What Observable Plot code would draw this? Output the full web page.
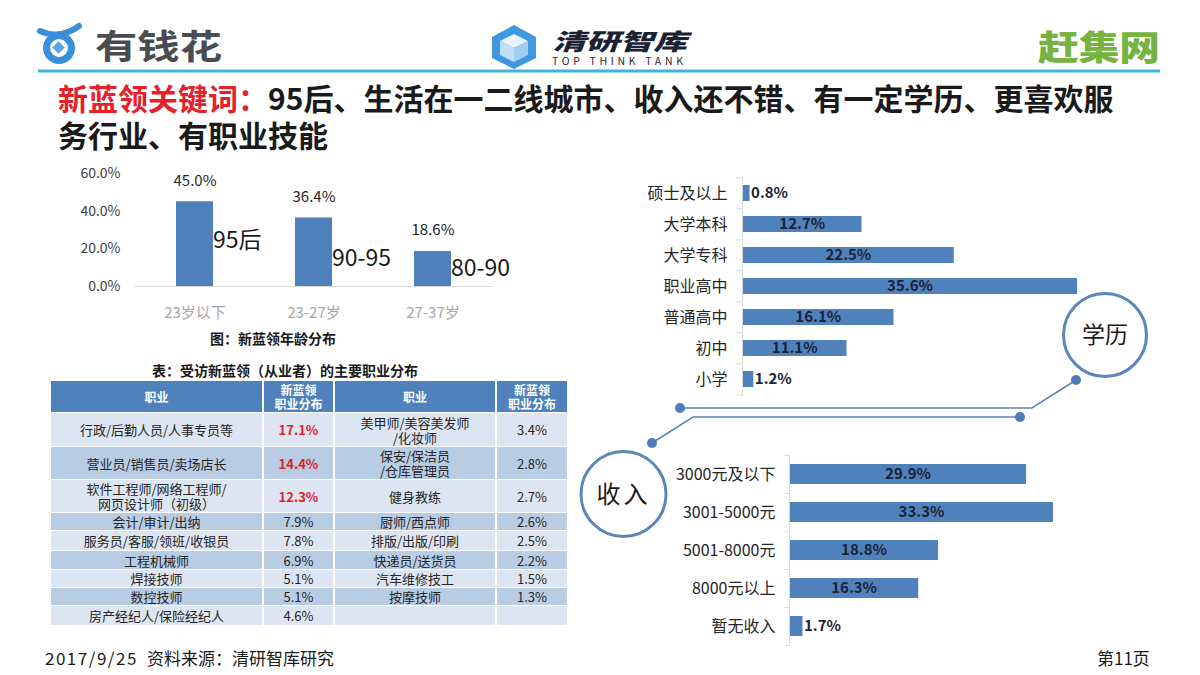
<!DOCTYPE html>
<html><head><meta charset="utf-8">
<script src="https://cdn.jsdelivr.net/npm/d3@7"></script>
<script src="https://cdn.jsdelivr.net/npm/@observablehq/plot@0.6"></script>
<style>
body{margin:0;background:#fff;}
#slide{position:relative;width:1200px;height:675px;overflow:hidden;font-family:"Noto Sans CJK SC","Noto Sans",sans-serif;background:#fff;color:#262626;}
.abs{position:absolute;}
.tl{left:58px;font-size:30px;line-height:34px;font-weight:700;color:#1a1a1a;white-space:nowrap;}
.tl .red{color:#e5202a;}
.cap{font-weight:700;font-size:14px;color:#1a1a1a;text-align:center;white-space:nowrap;}
#jobs{left:49px;top:380px;border-collapse:separate;border-spacing:2px 1px;font-size:13px;color:#262626;}
#jobs td,#jobs th{text-align:center;padding:0;line-height:15px;white-space:pre-line;}
#jobs th{background:#4f81bd;color:#fff;font-size:12px;font-weight:700;line-height:14px;height:31px;}
#jobs tr.l td{background:#dce5f1;}
#jobs tr.d td{background:#b8cce4;}
#jobs td.hi{color:#e0202a;font-weight:700;}
.foot{top:645px;font-size:17px;color:#1a1a1a;white-space:nowrap;}
</style></head><body>
<div id="slide">
  <svg class="abs" style="left:0;top:0" width="1200" height="675" id="deco">
    <line x1="38" y1="71" x2="1160" y2="71" stroke="#3db3e3" stroke-width="3"/>
    <!-- 有钱花 icon -->
    <path d="M40 31 Q60 40 79 26" fill="none" stroke="#3a8fda" stroke-width="6" stroke-linecap="round"/>
    <circle cx="59" cy="48" r="12.5" fill="none" stroke="#3a8fda" stroke-width="7"/>
    <rect x="54" y="43" width="9" height="9" fill="#5aa7e8" transform="rotate(45 58.5 47.5)"/>
    <text x="95" y="59" font-size="34" font-weight="700" fill="#4b4b52" textLength="127" lengthAdjust="spacingAndGlyphs">有钱花</text>
    <!-- 清研智库 icon -->
    <polygon points="514,25 536,37 536,58 514,69 492,58 492,37" fill="#3d98df"/>
    <polygon points="514,34 528,41 514,48 500,41" fill="#e8f3fb"/>
    <polygon points="500,41 514,48 514,62 500,55" fill="#bfe0f6"/>
    <polygon points="528,41 514,48 514,62 528,55" fill="#9fd0f1"/>
    <text x="552" y="50" font-size="23" font-weight="900" font-style="italic" fill="#1b2233" textLength="135" lengthAdjust="spacingAndGlyphs">清研智库</text>
    <text x="552" y="65" font-size="10.5" fill="#2b2b2b" textLength="131" lengthAdjust="spacing">TOP THINK TANK</text>
    <!-- 赶集网 -->
    <text x="1038" y="60" font-size="34" font-weight="900" fill="#76b33f" textLength="122" lengthAdjust="spacingAndGlyphs">赶集网</text>
    <!-- connectors -->
    <polyline points="680,408 1032,408 1076,380" fill="none" stroke="#5b84b9" stroke-width="1.5"/>
    <polyline points="652,443 693,417 1020,417" fill="none" stroke="#5b84b9" stroke-width="1.5"/>
    <circle cx="680" cy="408" r="5" fill="#4f7cb8"/>
    <circle cx="1076" cy="380" r="5" fill="#4f7cb8"/>
    <circle cx="652" cy="443" r="5" fill="#4f7cb8"/>
    <circle cx="1020" cy="417" r="5" fill="#4f7cb8"/>
    <circle cx="1105" cy="335" r="41.5" fill="#fff" stroke="#5b86bc" stroke-width="3"/>
    <text x="1105" y="343" font-size="23" text-anchor="middle" fill="#1a1a1a">学历</text>
    <circle cx="623.5" cy="494" r="42.5" fill="#fff" stroke="#5b86bc" stroke-width="3"/>
    <text x="623.5" y="503" font-size="24" text-anchor="middle" fill="#1a1a1a" letter-spacing="3">收入</text>
  </svg>
  <div class="abs tl" style="top:80px"><span class="red">新蓝领关键词：</span>95后、生活在一二线城市、收入还不错、有一定学历、更喜欢服</div>
  <div class="abs tl" style="top:117px">务行业、有职业技能</div>
  <div id="age" class="abs" style="left:0;top:150px"></div>
  <div class="abs cap" style="left:173px;top:328px;width:200px">图：新蓝领年龄分布</div>
  <div class="abs cap" style="left:110px;top:360px;width:350px;font-size:14px">表：受访新蓝领（从业者）的主要职业分布</div>
  <table id="jobs" class="abs"></table>
  <div id="edu" class="abs" style="left:600px;top:170px"></div>
  <div id="inc" class="abs" style="left:640px;top:445px"></div>
  <div class="abs foot" style="left:45px;letter-spacing:1.5px">2017/9/25</div>
  <div class="abs foot" style="left:147px">资料来源：清研智库研究</div>
  <div class="abs foot" style="left:1097px">第11页</div>
</div>
<script>
// ---- data ----
const ageCats = ["23岁以下", "23-27岁", "27-37岁"];
const ageVals = [45.0, 36.4, 18.6];
const cohortLabels = ["95后", "90-95", "80-90"];
const cohortLabelY = [24.4, 15.0, 9.6];
const ageTicks = [0, 20, 40, 60];

const eduCats = ["硕士及以上", "大学本科", "大学专科", "职业高中", "普通高中", "初中", "小学"];
const eduVals = [0.8, 12.7, 22.5, 35.6, 16.1, 11.1, 1.2];

const incCats = ["3000元及以下", "3001-5000元", "5001-8000元", "8000元以上", "暂无收入"];
const incVals = [29.9, 33.3, 18.8, 16.3, 1.7];

const tableHead = ["职业", "新蓝领\n职业分布", "职业", "新蓝领\n职业分布"];
const jobsA = ["行政/后勤人员/人事专员等", "营业员/销售员/卖场店长", "软件工程师/网络工程师/\n网页设计师（初级）", "会计/审计/出纳", "服务员/客服/领班/收银员", "工程机械师", "焊接技师", "数控技师", "房产经纪人/保险经纪人"];
const shareA = [17.1, 14.4, 12.3, 7.9, 7.8, 6.9, 5.1, 5.1, 4.6];
const jobsB = ["美甲师/美容美发师\n/化妆师", "保安/保洁员\n/仓库管理员", "健身教练", "厨师/西点师", "排版/出版/印刷", "快递员/送货员", "汽车维修技工", "按摩技师", ""];
const shareB = [3.4, 2.8, 2.7, 2.6, 2.5, 2.2, 1.5, 1.3, null];

const FONT = '"Noto Sans CJK SC","Noto Sans",sans-serif';
const BLUE = "#4f81bd";
const pct = v => v.toFixed(1) + "%";

// ---- age chart ----
const ageData = ageCats.map((c, i) => ({cat: c, val: ageVals[i], cohort: cohortLabels[i], ly: cohortLabelY[i]}));
document.getElementById("age").append(Plot.plot({
  width: 520, height: 200, marginLeft: 135, marginRight: 28, marginTop: 23, marginBottom: 64,
  style: {fontFamily: FONT, background: "transparent", overflow: "visible"},
  x: {domain: ageCats, paddingInner: 0.69, paddingOuter: 0.345},
  y: {domain: [0, 60]},
  marks: [
    Plot.axisY({ticks: ageTicks, tickFormat: pct, tickSize: 0, tickPadding: 15, fontSize: 14, color: "#404040", label: null}),
    Plot.axisX({tickSize: 0, tickPadding: 21, fontSize: 15, color: "#a6a6a6", label: null}),
    Plot.barY(ageData, {x: "cat", y: "val", fill: BLUE}),
    Plot.ruleY([0], {stroke: "#d9d9d9"}),
    Plot.text(ageData, {x: "cat", y: "val", text: d => pct(d.val), dy: -21, fontSize: 15, fill: "#262626"}),
    Plot.text(ageData, {x: "cat", y: "ly", text: "cohort", textAnchor: "start", dx: 18, fontSize: 23, fill: "#1a1a1a"})
  ]
}));

// ---- horizontal bar helper ----
function hbar(el, cats, vals, o) {
  const data = cats.map((c, i) => ({cat: c, val: vals[i]}));
  const big = data.filter(d => d.val >= 5), small = data.filter(d => d.val < 5);
  document.getElementById(el).append(Plot.plot({
    width: o.width, height: o.height, marginLeft: o.ml, marginRight: o.mr, marginTop: o.mt, marginBottom: o.mb,
    style: {fontFamily: FONT, background: "transparent", overflow: "visible"},
    x: {domain: [0, o.max], axis: null},
    y: {domain: cats, paddingInner: o.pad, paddingOuter: o.pad / 2},
    marks: [
      Plot.axisY({tickSize: 0, tickPadding: o.tp, fontSize: 16, color: "#262626", label: null}),
      Plot.barX(data, {y: "cat", x: "val", fill: BLUE}),
      Plot.ruleX([0], {stroke: "#d9d9d9"}),
      Plot.ruleY(cats, {y: d => d, x1: -o.max * 0.017, x2: 0, dy: -o.step / 2, stroke: "#d9d9d9"}),
      Plot.ruleY(cats.slice(-1), {y: d => d, x1: -o.max * 0.017, x2: 0, dy: o.step / 2, stroke: "#d9d9d9"}),
      Plot.text(big, {y: "cat", x: d => d.val / 2, text: d => pct(d.val), fontSize: 15, fontWeight: "bold", fill: "#1c2336"}),
      Plot.text(small, {y: "cat", x: "val", text: d => pct(d.val), textAnchor: "start", dx: 1, fontSize: 15, fontWeight: "bold", fill: "#1c2336"})
    ]
  }));
}
hbar("edu", eduCats, eduVals, {width: 500, height: 235, ml: 142, mr: 23, mt: 6, mb: 9, max: 35.6, pad: 0.47, tp: 15, step: 31.3});
hbar("inc", incCats, incVals, {width: 450, height: 210, ml: 149, mr: 37, mt: 10, mb: 10, max: 33.3, pad: 0.47, tp: 14, step: 38});

// ---- table ----
const tbl = document.getElementById("jobs");
const colW = [211, 69, 160, 70];
const rowH = [33, 32, 32, 17, 19, 18, 17, 17, 19];
let html = "<tr>" + tableHead.map((h, i) => `<th style="width:${colW[i]}px">${h}</th>`).join("") + "</tr>";
jobsA.forEach((j, i) => {
  const hi = shareA[i] >= 10 ? ' class="hi"' : "";
  html += `<tr class="${i % 2 ? "d" : "l"}" style="height:${rowH[i]}px"><td>${j}</td><td${hi}>${pct(shareA[i])}</td><td>${jobsB[i]}</td><td>${shareB[i] == null ? "" : pct(shareB[i])}</td></tr>`;
});
tbl.innerHTML = html;
</script>
</body></html>
